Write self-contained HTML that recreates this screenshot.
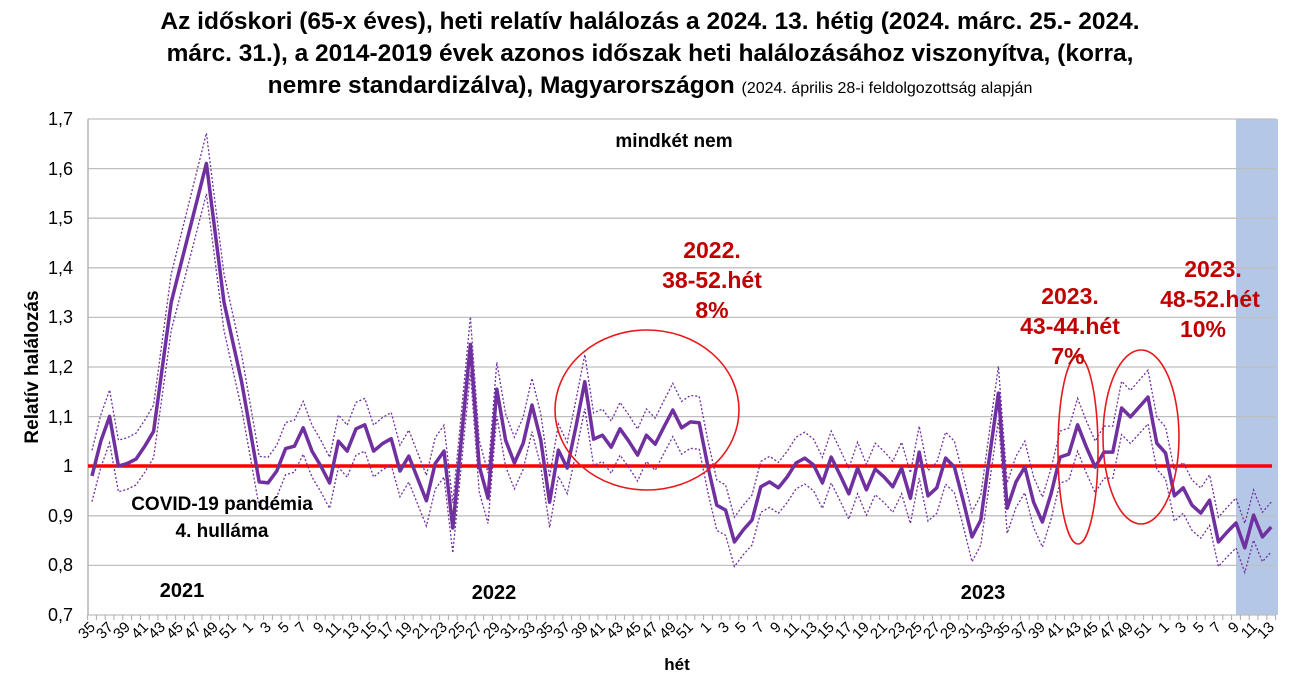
<!DOCTYPE html>
<html><head><meta charset="utf-8"><style>
body{margin:0;background:#fff;width:1300px;height:696px;overflow:hidden;font-family:"Liberation Sans",sans-serif}
.t{position:absolute;left:0;width:1300px;text-align:center;font-weight:bold;font-size:24.5px;color:#000;white-space:nowrap}
</style></head><body>
<div class="t" style="top:8px">Az időskori (65-x éves), heti relatív halálozás a 2024. 13. hétig (2024. márc. 25.- 2024.</div>
<div class="t" style="top:40px">márc. 31.), a 2014-2019 évek azonos időszak heti halálozásához viszonyítva, (korra,</div>
<div class="t" style="top:72px">nemre standardizálva), Magyarországon <span style="font-weight:normal;font-size:16px">(2024. április 28-i feldolgozottság alapján</span></div>
<svg id="s" width="1300" height="696" style="position:absolute;left:0;top:0" font-family="Liberation Sans, sans-serif">
<rect x="1236" y="119" width="42" height="496" fill="#b4c7e7"/>
<g id="grid" stroke="#bfbfbf" stroke-width="1.3"></g>
<line x1="88" y1="119" x2="88" y2="615" stroke="#aaa" stroke-width="1.3"/>
<g font-size="18" text-anchor="end" fill="#000">
<text x="73" y="125">1,7</text><text x="73" y="175">1,6</text><text x="73" y="224">1,5</text><text x="73" y="274">1,4</text><text x="73" y="323">1,3</text><text x="73" y="373">1,2</text><text x="73" y="423">1,1</text><text x="73" y="472">1</text><text x="73" y="522">0,9</text><text x="73" y="571">0,8</text><text x="73" y="621">0,7</text>
</g>
<line x1="88" y1="466" x2="1272" y2="466" stroke="#ff0000" stroke-width="3.5"/>
<polyline id="up" fill="none" stroke="#7030a0" stroke-width="1.3" stroke-dasharray="2,2"/>
<polyline id="lo" fill="none" stroke="#7030a0" stroke-width="1.3" stroke-dasharray="2,2"/>
<polyline id="mn" fill="none" stroke="#7030a0" stroke-width="3.5" stroke-linejoin="round"/>
<g fill="none" stroke="#e8191c" stroke-width="1.6">
<ellipse cx="647" cy="410" rx="92" ry="80"/>
<ellipse cx="1078" cy="450" rx="20" ry="94"/>
<ellipse cx="1141" cy="437" rx="38" ry="87"/>
</g>
<g font-weight="bold" fill="#c00000" font-size="23" text-anchor="middle">
<text x="712" y="258">2022.</text><text x="712" y="288">38-52.hét</text><text x="712" y="318">8%</text>
<text x="1070" y="304">2023.</text><text x="1070" y="334">43-44.hét</text><text x="1068" y="364">7%</text>
<text x="1213" y="277">2023.</text><text x="1210" y="307">48-52.hét</text><text x="1203" y="337">10%</text>
</g>
<g font-weight="bold" fill="#000" text-anchor="middle">
<text x="674" y="147" font-size="19">mindkét nem</text>
<text x="222" y="510" font-size="19">COVID-19 pandémia</text>
<text x="222" y="537" font-size="19">4. hulláma</text>
<text x="182" y="597" font-size="20">2021</text>
<text x="494" y="599" font-size="20">2022</text>
<text x="983" y="599" font-size="20">2023</text>
<text x="677" y="670" font-size="17">hét</text>
<text transform="translate(38,367) rotate(-90)" font-size="19">Relatív halálozás</text>
</g>
<g id="ticks" stroke="#aaa" stroke-width="1"></g>
<g id="lab" font-size="15" text-anchor="end" fill="#000">
<text transform="translate(96,628) rotate(-45)">35</text><text transform="translate(114,628) rotate(-45)">37</text><text transform="translate(131,628) rotate(-45)">39</text><text transform="translate(149,628) rotate(-45)">41</text><text transform="translate(166,628) rotate(-45)">43</text><text transform="translate(184,628) rotate(-45)">45</text><text transform="translate(202,628) rotate(-45)">47</text><text transform="translate(219,628) rotate(-45)">49</text><text transform="translate(237,628) rotate(-45)">51</text>
<text transform="translate(254,628) rotate(-45)">1</text><text transform="translate(272,628) rotate(-45)">3</text><text transform="translate(290,628) rotate(-45)">5</text><text transform="translate(307,628) rotate(-45)">7</text><text transform="translate(325,628) rotate(-45)">9</text><text transform="translate(342,628) rotate(-45)">11</text><text transform="translate(360,628) rotate(-45)">13</text><text transform="translate(378,628) rotate(-45)">15</text><text transform="translate(395,628) rotate(-45)">17</text><text transform="translate(413,628) rotate(-45)">19</text><text transform="translate(430,628) rotate(-45)">21</text><text transform="translate(448,628) rotate(-45)">23</text><text transform="translate(466,628) rotate(-45)">25</text><text transform="translate(483,628) rotate(-45)">27</text><text transform="translate(501,628) rotate(-45)">29</text><text transform="translate(518,628) rotate(-45)">31</text><text transform="translate(536,628) rotate(-45)">33</text><text transform="translate(554,628) rotate(-45)">35</text><text transform="translate(571,628) rotate(-45)">37</text><text transform="translate(589,628) rotate(-45)">39</text><text transform="translate(606,628) rotate(-45)">41</text><text transform="translate(624,628) rotate(-45)">43</text><text transform="translate(642,628) rotate(-45)">45</text><text transform="translate(659,628) rotate(-45)">47</text><text transform="translate(677,628) rotate(-45)">49</text><text transform="translate(694,628) rotate(-45)">51</text>
<text transform="translate(712,628) rotate(-45)">1</text><text transform="translate(730,628) rotate(-45)">3</text><text transform="translate(747,628) rotate(-45)">5</text><text transform="translate(765,628) rotate(-45)">7</text><text transform="translate(782,628) rotate(-45)">9</text><text transform="translate(800,628) rotate(-45)">11</text><text transform="translate(818,628) rotate(-45)">13</text><text transform="translate(835,628) rotate(-45)">15</text><text transform="translate(853,628) rotate(-45)">17</text><text transform="translate(870,628) rotate(-45)">19</text><text transform="translate(888,628) rotate(-45)">21</text><text transform="translate(906,628) rotate(-45)">23</text><text transform="translate(923,628) rotate(-45)">25</text><text transform="translate(941,628) rotate(-45)">27</text><text transform="translate(958,628) rotate(-45)">29</text><text transform="translate(976,628) rotate(-45)">31</text><text transform="translate(994,628) rotate(-45)">33</text><text transform="translate(1011,628) rotate(-45)">35</text><text transform="translate(1029,628) rotate(-45)">37</text><text transform="translate(1046,628) rotate(-45)">39</text><text transform="translate(1064,628) rotate(-45)">41</text><text transform="translate(1082,628) rotate(-45)">43</text><text transform="translate(1099,628) rotate(-45)">45</text><text transform="translate(1117,628) rotate(-45)">47</text><text transform="translate(1134,628) rotate(-45)">49</text><text transform="translate(1152,628) rotate(-45)">51</text>
<text transform="translate(1170,628) rotate(-45)">1</text><text transform="translate(1187,628) rotate(-45)">3</text><text transform="translate(1205,628) rotate(-45)">5</text><text transform="translate(1222,628) rotate(-45)">7</text><text transform="translate(1240,628) rotate(-45)">9</text><text transform="translate(1258,628) rotate(-45)">11</text><text transform="translate(1275,628) rotate(-45)">13</text>
</g>
</svg>
<script>
var v=[0.98,1.05,1.10,1.0,1.005,1.014,1.04,1.07,1.2,1.33,1.40,1.47,1.54,1.61,1.47,1.33,1.25,1.17,1.07,0.968,0.966,0.99,1.035,1.04,1.077,1.03,1.0,0.966,1.05,1.03,1.075,1.083,1.03,1.045,1.055,0.99,1.02,0.975,0.93,1.005,1.03,0.875,1.06,1.245,1.0,0.935,1.155,1.052,1.006,1.046,1.123,1.052,0.927,1.032,0.996,1.08,1.17,1.054,1.062,1.038,1.075,1.05,1.022,1.062,1.044,1.079,1.113,1.077,1.089,1.087,0.998,0.921,0.911,0.847,0.871,0.891,0.958,0.968,0.956,0.978,1.006,1.016,1.002,0.966,1.018,0.982,0.944,0.996,0.952,0.994,0.978,0.958,0.996,0.935,1.028,0.94,0.956,1.016,0.998,0.93,0.857,0.891,1.02,1.147,0.915,0.968,0.998,0.927,0.887,0.945,1.018,1.024,1.083,1.038,0.998,1.028,1.028,1.117,1.099,1.119,1.139,1.046,1.026,0.94,0.956,0.921,0.905,0.931,0.847,0.867,0.885,0.835,0.901,0.857,0.877];
function X(i){return 92+8.8*i}function Y(a){return 466-(a-1)*496}
function pts(d){return v.map(function(a,i){return X(i).toFixed(1)+','+Y(a+d*(0.015*a+0.037)).toFixed(1)}).join(' ')}
document.getElementById('mn').setAttribute('points',pts(0));
document.getElementById('up').setAttribute('points',pts(1));
document.getElementById('lo').setAttribute('points',pts(-1));
var g=document.getElementById('grid'),s='';
for(var k=0;k<11;k++){var y=119+k*49.6;s+='<line x1="88" x2="1276" y1="'+y+'" y2="'+y+'"/>';}
g.innerHTML=s;
var t='';for(var i=0;i<=135;i++){var x=87.6+8.8*i;t+='<line x1="'+x+'" x2="'+x+'" y1="615" y2="620"/>';}
document.getElementById('ticks').innerHTML=t;
</script>
</body></html>
